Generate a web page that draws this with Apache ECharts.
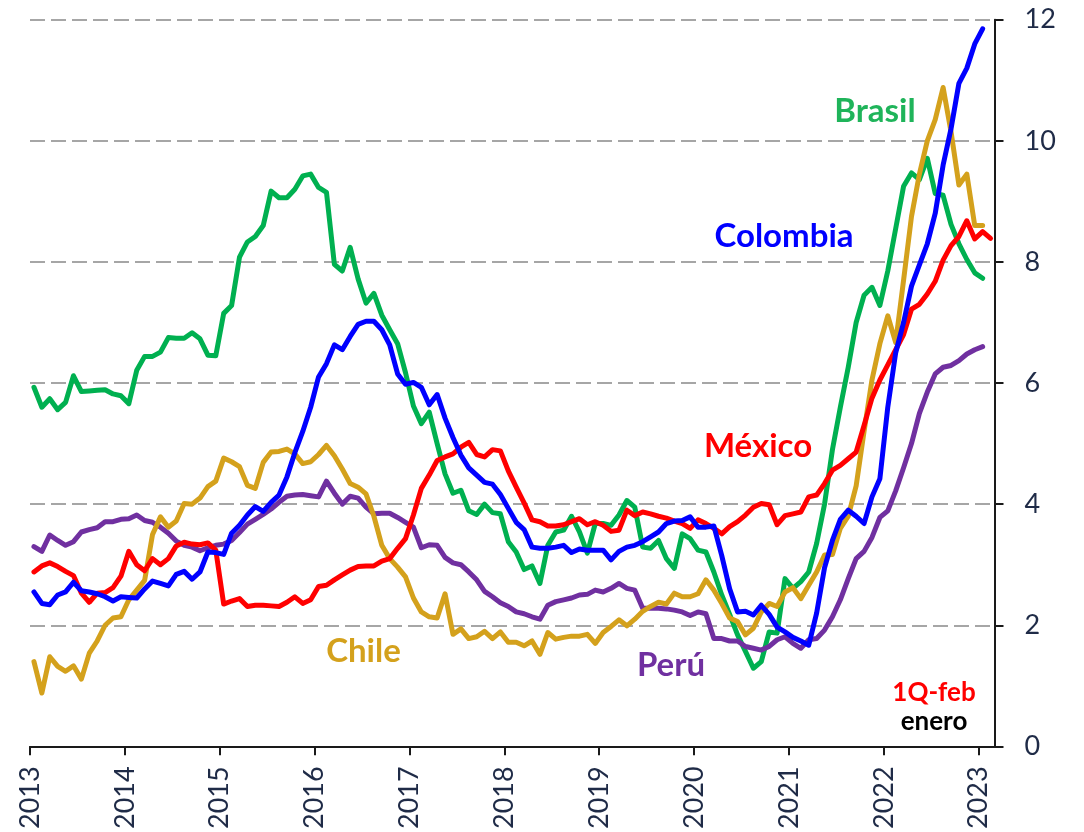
<!DOCTYPE html>
<html>
<head>
<meta charset="utf-8">
<script src="https://cdn.jsdelivr.net/npm/echarts@6/dist/echarts.min.js"></script>
<style>
html,body{margin:0;padding:0;background:#ffffff;}
#chart{width:1084px;height:832px;}
</style>
</head>
<body>
<div id="chart"></div>
<script>
// Monthly categories: Jan 2013 ... Feb 2023 (122 months); points sit at month centres
const firstYear = 2013;
const monthCount = 122;
const yearTicks = [2013,2014,2015,2016,2017,2018,2019,2020,2021,2022,2023];
const yTicks = [0,2,4,6,8,10,12];

const brasil = [5.93,5.60,5.74,5.56,5.68,6.12,5.86,5.87,5.88,5.89,
5.82,5.79,5.66,6.21,6.44,6.44,6.51,6.75,6.74,6.74,
6.83,6.73,6.46,6.45,7.15,7.28,8.08,8.33,8.42,8.60,
9.17,9.06,9.06,9.20,9.42,9.45,9.23,9.15,7.96,7.85,
8.24,7.72,7.32,7.48,7.12,6.88,6.65,6.17,5.62,5.33,
5.52,5.00,4.50,4.18,4.23,3.89,3.83,4.00,3.86,3.84,
3.38,3.21,2.92,2.98,2.69,3.32,3.54,3.57,3.80,3.54,
3.19,3.68,3.68,3.65,3.82,4.06,3.95,3.29,3.27,3.40,
3.10,2.94,3.51,3.43,3.24,3.21,2.88,2.50,2.18,1.84,
1.57,1.29,1.40,1.89,1.87,2.77,2.61,2.72,2.88,3.35,
4.00,4.90,5.60,6.26,7.00,7.45,7.58,7.28,7.85,8.55,
9.25,9.47,9.36,9.71,9.13,9.10,8.62,8.30,8.04,7.82,7.73];

const colombia = [2.55,2.36,2.34,2.50,2.55,2.71,2.57,2.55,2.52,2.47,
2.40,2.47,2.46,2.45,2.60,2.73,2.69,2.65,2.84,2.89,
2.76,2.88,3.21,3.20,3.17,3.52,3.65,3.82,3.96,3.88,
4.03,4.15,4.45,4.85,5.20,5.60,6.10,6.32,6.63,6.55,
6.77,6.97,7.02,7.02,6.88,6.63,6.15,5.98,6.01,5.93,
5.64,5.81,5.42,5.10,4.81,4.60,4.48,4.36,4.33,4.16,
3.93,3.70,3.58,3.29,3.27,3.27,3.29,3.32,3.20,3.26,
3.24,3.24,3.24,3.08,3.22,3.29,3.32,3.38,3.46,3.54,
3.68,3.72,3.73,3.79,3.62,3.62,3.64,3.15,2.60,2.22,
2.23,2.17,2.33,2.18,1.97,1.89,1.80,1.74,1.67,2.20,
2.95,3.40,3.75,3.90,3.80,3.68,4.12,4.42,5.60,6.50,
7.00,7.60,7.95,8.30,8.80,9.60,10.20,10.95,11.20,11.60,11.85];

const mexico = [2.88,2.98,3.03,2.97,2.89,2.82,2.53,2.38,2.53,2.54,
2.62,2.81,3.22,3.00,2.90,3.10,3.00,3.10,3.31,3.37,
3.34,3.33,3.36,3.24,2.35,2.40,2.44,2.31,2.33,2.33,
2.32,2.31,2.38,2.47,2.36,2.42,2.64,2.66,2.75,2.83,
2.91,2.97,2.98,2.98,3.06,3.10,3.27,3.43,3.82,4.26,
4.48,4.72,4.78,4.83,4.94,5.02,4.82,4.78,4.90,4.88,
4.55,4.28,4.02,3.74,3.71,3.64,3.64,3.66,3.71,3.76,
3.66,3.71,3.65,3.55,3.57,3.90,3.81,3.87,3.84,3.80,
3.77,3.72,3.68,3.60,3.74,3.68,3.60,3.51,3.63,3.71,
3.82,3.95,4.01,3.99,3.66,3.81,3.84,3.87,4.12,4.15,
4.34,4.56,4.64,4.75,4.86,5.30,5.75,6.05,6.30,6.55,
6.80,7.22,7.30,7.47,7.68,8.03,8.27,8.42,8.68,8.38,8.50,8.39];

const chile = [1.40,0.88,1.48,1.32,1.24,1.33,1.11,1.54,1.74,2.00,
2.12,2.14,2.42,2.58,2.74,3.50,3.79,3.62,3.72,4.01,
4.00,4.10,4.29,4.38,4.76,4.70,4.62,4.31,4.26,4.69,
4.86,4.87,4.91,4.83,4.67,4.70,4.82,4.97,4.80,4.58,
4.34,4.28,4.17,3.80,3.32,3.10,2.96,2.80,2.45,2.22,
2.14,2.12,2.52,1.85,1.94,1.78,1.81,1.90,1.78,1.89,
1.72,1.72,1.66,1.74,1.52,1.88,1.77,1.80,1.82,1.82,
1.85,1.70,1.88,1.98,2.09,1.99,2.10,2.23,2.31,2.38,
2.35,2.53,2.47,2.47,2.52,2.75,2.58,2.36,2.12,2.06,
1.84,1.95,2.22,2.36,2.31,2.55,2.62,2.44,2.66,2.88,
3.16,3.17,3.60,3.80,4.30,5.20,6.05,6.65,7.11,6.67,
7.70,8.75,9.45,10.00,10.35,10.88,10.15,9.27,9.45,8.60,8.60];

const peru = [3.30,3.22,3.49,3.40,3.32,3.38,3.54,3.58,3.61,3.71,
3.71,3.75,3.76,3.82,3.73,3.70,3.62,3.52,3.39,3.32,
3.29,3.23,3.28,3.32,3.34,3.40,3.53,3.67,3.75,3.83,
3.92,4.03,4.13,4.15,4.16,4.14,4.12,4.38,4.18,4.00,
4.13,4.10,3.95,3.84,3.85,3.85,3.78,3.70,3.62,3.28,
3.33,3.32,3.12,3.03,3.00,2.88,2.75,2.56,2.47,2.37,
2.31,2.22,2.19,2.14,2.10,2.33,2.39,2.42,2.45,2.50,
2.51,2.58,2.55,2.61,2.69,2.61,2.58,2.28,2.28,2.28,
2.27,2.25,2.22,2.16,2.22,2.19,1.78,1.78,1.74,1.74,
1.65,1.62,1.59,1.65,1.76,1.81,1.70,1.62,1.76,1.78,
1.92,2.14,2.42,2.77,3.10,3.22,3.45,3.78,3.89,4.22,
4.60,5.00,5.50,5.85,6.15,6.26,6.29,6.37,6.48,6.55,6.60];

const seriesNames = ['Brasil','Perú','Chile','México','Colombia'];
const seriesData = {Brasil: brasil, 'Perú': peru, Chile: chile, 'México': mexico, Colombia: colombia};
const lineColors = {Brasil:'#00b050', 'Perú':'#7030a0', Chile:'#d4a11c', 'México':'#ff0000', Colombia:'#0000ff'};

const tickValues = yearTicks.map(y => (y - firstYear) * 12);
const toPoints = arr => arr.map((v, i) => [i + 0.5, v]);

const axisColor = '#1a1a1a';
const labelColor = '#1f2b47';
const tickFont = 'Lato';

const chart = echarts.init(document.getElementById('chart'), null, {renderer: 'canvas'});
chart.setOption({
  animation: false,
  backgroundColor: '#ffffff',
  grid: {show: false, borderWidth: 0, left: 30, right: 89.5, top: 19.7, bottom: 83.7, containLabel: false},
  xAxis: {
    type: 'value', min: 0, max: monthCount, interval: 12,
    axisLine: {show: true, onZero: false, lineStyle: {color: axisColor, width: 2}},
    axisTick: {show: true, length: 9, inside: false, customValues: tickValues, lineStyle: {color: axisColor, width: 2}},
    axisLabel: {
      show: true, rotate: 90, margin: 20, customValues: tickValues,
      color: labelColor, fontFamily: tickFont, fontSize: 27, padding: [10, 0, 0, 0],
      formatter: v => String(firstYear + Math.round(v / 12))
    },
    splitLine: {show: false},
    minorSplitLine: {show: false}
  },
  yAxis: {
    type: 'value', position: 'right', min: yTicks[0], max: yTicks[yTicks.length - 1], interval: 2,
    axisLine: {show: true, onZero: false, lineStyle: {color: axisColor, width: 2}},
    axisTick: {show: true, length: 9, inside: false, lineStyle: {color: axisColor, width: 2}},
    axisLabel: {show: true, margin: 30, color: labelColor, fontFamily: tickFont, fontSize: 27},
    splitLine: {show: true, lineStyle: {color: '#a6a6a6', width: 2, type: [15, 6]}}
  },
  series: seriesNames.map(name => ({
    name: name, type: 'line', data: toPoints(seriesData[name]),
    showSymbol: false, symbol: 'none', smooth: false, clip: false,
    lineStyle: {color: lineColors[name], width: 5, cap: 'round', join: 'round'},
    emphasis: {disabled: true}
  })),
  graphic: [
    {type:'text', x: 875, y: 111.5, style:{text:'Brasil', fill:'#1fb45a', font:'bold 33px Lato', align:'center', verticalAlign:'middle'}},
    {type:'text', x: 784, y: 236, style:{text:'Colombia', fill:'#0000ff', font:'bold 33px Lato', align:'center', verticalAlign:'middle'}},
    {type:'text', x: 758, y: 446, style:{text:'México', fill:'#ff0000', font:'bold 33px Lato', align:'center', verticalAlign:'middle'}},
    {type:'text', x: 363.5, y: 651, style:{text:'Chile', fill:'#d4a11c', font:'bold 33px Lato', align:'center', verticalAlign:'middle'}},
    {type:'text', x: 671, y: 665, style:{text:'Perú', fill:'#7030a0', font:'bold 33px Lato', align:'center', verticalAlign:'middle'}},
    {type:'text', x: 934, y: 692.5, style:{text:'1Q-feb', fill:'#ff0000', font:'bold 26px Lato', align:'center', verticalAlign:'middle'}},
    {type:'text', x: 934, y: 722, style:{text:'enero', fill:'#000000', font:'bold 26px Lato', align:'center', verticalAlign:'middle'}}
  ]
});
</script>
</body>
</html>
